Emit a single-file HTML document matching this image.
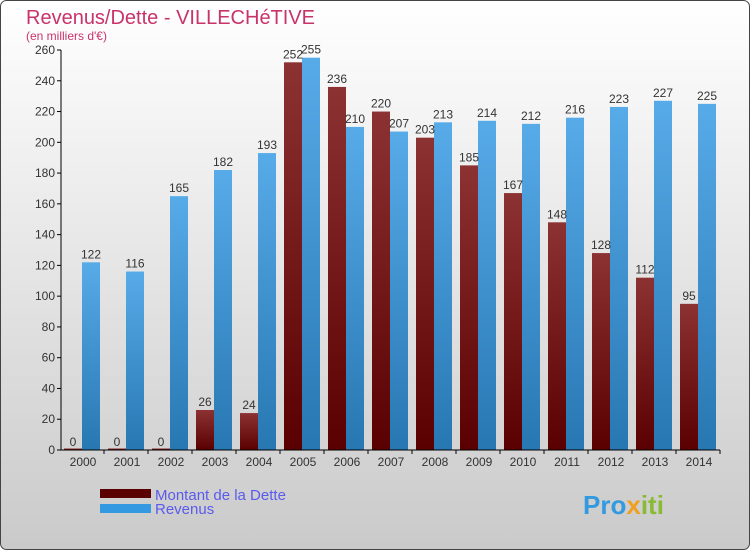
<!DOCTYPE html>
<html><head><meta charset="utf-8"><style>
html,body{margin:0;padding:0}
body{width:750px;height:550px;overflow:hidden;font-family:"Liberation Sans",sans-serif}
</style></head><body>
<svg id="chart" width="750" height="550" xmlns="http://www.w3.org/2000/svg">
<defs>
<linearGradient id="bg" x1="0" y1="0" x2="0" y2="1"><stop offset="0" stop-color="#ffffff"/><stop offset="1" stop-color="#cacaca"/></linearGradient>
<linearGradient id="gd" x1="0" y1="0" x2="0" y2="1"><stop offset="0" stop-color="#8c3232"/><stop offset="1" stop-color="#5a0000"/></linearGradient>
<linearGradient id="gr" x1="0" y1="0" x2="0" y2="1"><stop offset="0" stop-color="#57abe8"/><stop offset="1" stop-color="#2777b2"/></linearGradient>
</defs>
<rect x="0.5" y="0.5" width="749" height="549" rx="6" fill="url(#bg)" stroke="#444"/>
<text x="26" y="24" font-size="20" fill="#c8336a">Revenus/Dette - VILLECHéTIVE</text>
<text x="26" y="40" font-size="12" fill="#c8336a">(en milliers d'€)</text>
<g id="marks"></g>
<g>
<rect x="100" y="489" width="51" height="9" fill="#5a0000"/>
<text x="155" y="500" font-size="15" fill="#5a5aee">Montant de la Dette</text>
<rect x="100" y="504" width="51" height="9" fill="#3399e0"/>
<text x="155" y="514" font-size="15" fill="#5a5aee">Revenus</text>
</g>
<text x="583" y="514" font-size="26" font-weight="bold" fill="#3399e0">Pro<tspan fill="#f0a020">x</tspan><tspan fill="#88bb33">iti</tspan></text>
</svg>
<script>
const years=["2000","2001","2002","2003","2004","2005","2006","2007","2008","2009","2010","2011","2012","2013","2014"];
const dette=[0,0,0,26,24,252,236,220,203,185,167,148,128,112,95];
const revenus=[122,116,165,182,193,255,210,207,213,214,212,216,223,227,225];
const yTicks=[0,20,40,60,80,100,120,140,160,180,200,220,240,260];
const NS="http://www.w3.org/2000/svg";
const g=document.getElementById('marks');
const y=v=>450-v*400/260;
const xc=i=>82+i*44;
const bw=18;
function mk(t,a,txt){const e=document.createElementNS(NS,t);for(const k in a)e.setAttribute(k,a[k]);if(txt!==undefined)e.textContent=txt;g.appendChild(e);return e;}
yTicks.forEach(v=>{
 const l=mk('line',{x1:57,x2:61,y1:y(v),y2:y(v),stroke:'#000'});
 
 
 const t=mk('text',{x:55,y:y(v)+4,'font-size':12,fill:'#333','text-anchor':'end'},v);
 
 
});
years.forEach((yr,i)=>{
 const c=xc(i);
 const hd=Math.max(dette[i]*400/260,1.5);
 const b1=mk('rect',{x:c-bw,y:450-hd,width:bw,height:hd,fill:'url(#gd)'});
 
 
 const b2=mk('rect',{x:c,y:y(revenus[i]),width:bw,height:450-y(revenus[i]),fill:'url(#gr)'});
 
 
 const t1=mk('text',{x:c-bw/2,y:y(dette[i])-4,'font-size':12,fill:'#333','text-anchor':'middle'},dette[i]);
 
 
 const t2=mk('text',{x:c+bw/2,y:y(revenus[i])-4,'font-size':12,fill:'#333','text-anchor':'middle'},revenus[i]);
 
 
 const tk=mk('line',{x1:c+22,x2:c+22,y1:450,y2:454,stroke:'#000'});
 
 
 const xl=mk('text',{x:c+1,y:466,'font-size':12,fill:'#333','text-anchor':'middle'},yr);
 
 
});
const ax=mk('line',{x1:61,x2:61,y1:y(260),y2:450,stroke:'#000'});


const bx=mk('line',{x1:61,x2:720,y1:450,y2:450,stroke:'#000'});


</script>
</body></html>
